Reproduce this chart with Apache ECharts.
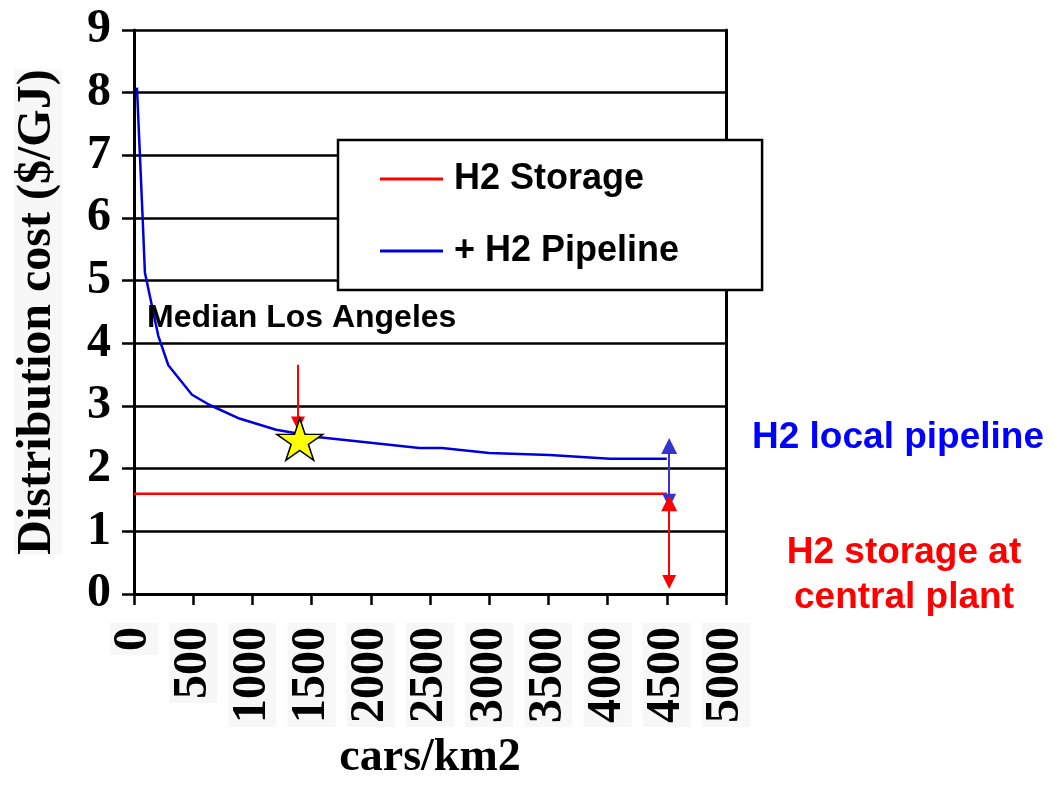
<!DOCTYPE html>
<html>
<head>
<meta charset="utf-8">
<title>H2 distribution cost</title>
<script src="https://cdn.jsdelivr.net/npm/echarts@6/dist/echarts.min.js"></script>
<style>
  html, body { margin: 0; padding: 0; background: #fff; }
  #main { width: 1053px; height: 785px; }
</style>
</head>
<body>
<div id="main"></div>
<script>
// 数据 -- cars/km2 vs distribution cost ($/GJ)
const pipelineX = [25, 50, 73, 92, 205, 290, 490, 635, 890, 1200, 1565, 2410, 2600, 3000, 3510, 4020, 4500];
const pipelineCost = [8.08, 7.0, 6.0, 5.13, 4.12, 3.65, 3.18, 3.02, 2.8, 2.62, 2.5, 2.33, 2.33, 2.25, 2.22, 2.16, 2.16];
const storageX = [0, 4500];
const storageCost = [1.6, 1.6];
// Median Los Angeles star
const medianLA = [1400, 2.47];
// arrows: [x, from, to]
const medianArrow = [1385, 3.66, 2.72];
const pipelineArrow = [4520, 2.36, 1.49];
const storageArrow = [4520, 1.45, 0.19];

const serif = '"Liberation Serif", "Times New Roman", serif';
const sans = '"Liberation Sans", Arial, sans-serif';

const chart = echarts.init(document.getElementById('main'));

function toPairs(xs, ys) {
  let out = [];
  for (let i = 0; i < xs.length; i++) {
    out.push([xs[i], ys[i]]);
  }
  return out;
}

// 双向/单向箭头
function arrow(a, color, both) {
  return {
    type: 'lines',
    coordinateSystem: 'cartesian2d',
    z: 5,
    symbol: both ? ['triangle', 'triangle'] : ['none', 'triangle'],
    symbolSize: [16, 14],
    lineStyle: { color: color, width: 2, opacity: 1 },
    data: [{ coords: [[a[0], a[1]], [a[0], a[2]]] }]
  };
}

const starPath = 'path://M50,0 L61,35 L98,35 L68,57 L79,91 L50,70 L21,91 L32,57 L2,35 L39,35 Z';

let option = {
  animation: false,
  backgroundColor: '#fff',
  grid: { left: 134, right: 327, top: 30, bottom: 191, outerBoundsMode: 'none', containLabel: false },
  legend: {
    orient: 'vertical',
    left: 338,
    top: 140,
    padding: [21, 83, 21, 42],
    itemGap: 36,
    itemWidth: 63,
    itemHeight: 3,
    icon: 'rect',
    backgroundColor: '#fff',
    borderColor: '#000',
    borderWidth: 2.5,
    borderRadius: 0,
    selectedMode: false,
    textStyle: { fontFamily: sans, fontWeight: 'bold', fontSize: 36, color: '#000', padding: [0, 0, 0, 6] },
    data: ['H2 Storage', '+ H2 Pipeline']
  },
  xAxis: {
    type: 'value',
    min: 0,
    max: 5000,
    interval: 500,
    name: 'cars/km2',
    nameLocation: 'middle',
    nameGap: 139,
    nameTextStyle: { fontFamily: serif, fontWeight: 'bold', fontSize: 46, color: '#000' },
    axisLine: { show: true, lineStyle: { color: '#000', width: 3 } },
    axisTick: { show: true, length: 11, lineStyle: { color: '#000', width: 2.5 } },
    splitLine: { show: false },
    axisLabel: {
      rotate: 90,
      interval: 0,
      margin: 29,
      formatter: function (v) { return String(v); },
      fontFamily: serif,
      fontWeight: 'bold',
      fontSize: 48,
      color: '#000',
      backgroundColor: '#f7f7f7',
      padding: [0, 4]
    }
  },
  yAxis: [{
    type: 'value',
    min: 0,
    max: 9,
    interval: 1,
    name: 'Distribution cost ($/GJ)',
    nameLocation: 'middle',
    nameRotate: 90,
    nameGap: 72,
    nameTextStyle: { fontFamily: serif, fontWeight: 'bold', fontSize: 48, color: '#000', backgroundColor: '#f7f7f7' },
    axisLine: { show: true, lineStyle: { color: '#000', width: 3 } },
    axisTick: { show: true, length: 12, lineStyle: { color: '#000', width: 2.5 } },
    splitLine: { show: true, lineStyle: { color: '#000', width: 2.5 } },
    axisLabel: { margin: 23, fontFamily: serif, fontWeight: 'bold', fontSize: 48, color: '#000' }
  }, {
    // 右侧边框
    type: 'value',
    position: 'right',
    min: 0,
    max: 9,
    interval: 1,
    axisLine: { show: true, lineStyle: { color: '#000', width: 3 } },
    axisTick: { show: false },
    axisLabel: { show: false },
    splitLine: { show: false }
  }],
  graphic: [
    {
      type: 'text', x: 147, y: 318, z: 10,
      style: { text: 'Median Los Angeles', fontFamily: sans, fontWeight: 'bold', fontSize: 32, fill: '#000', verticalAlign: 'middle' }
    },
    {
      type: 'text', x: 898, y: 438, z: 10,
      style: { text: 'H2 local pipeline', fontFamily: sans, fontWeight: 'bold', fontSize: 37, fill: '#0000ff', align: 'center', verticalAlign: 'middle' }
    },
    {
      type: 'text', x: 904, y: 575, z: 10,
      style: { text: 'H2 storage at\ncentral plant', fontFamily: sans, fontWeight: 'bold', fontSize: 37, lineHeight: 45, fill: '#ff0000', align: 'center', verticalAlign: 'middle' }
    }
  ],
  series: [
    {
      name: 'H2 Storage',
      type: 'line',
      showSymbol: false,
      symbol: 'none',
      itemStyle: { color: '#ff0000' },
      lineStyle: { color: '#ff0000', width: 2.5 },
      data: toPairs(storageX, storageCost)
    },
    {
      name: '+ H2 Pipeline',
      type: 'line',
      showSymbol: false,
      symbol: 'none',
      itemStyle: { color: '#0000dd' },
      lineStyle: { color: '#0000dd', width: 2.5 },
      data: toPairs(pipelineX, pipelineCost)
    },
    arrow(medianArrow, '#ff0000', false),
    arrow(pipelineArrow, '#3535cc', true),
    arrow(storageArrow, '#ff0000', true),
    {
      type: 'scatter',
      z: 6,
      symbol: starPath,
      symbolSize: [46, 42],
      itemStyle: { color: '#ffff00', borderColor: '#000', borderWidth: 1.5, opacity: 1 },
      data: [medianLA]
    }
  ]
};

chart.setOption(option);
</script>
</body>
</html>
